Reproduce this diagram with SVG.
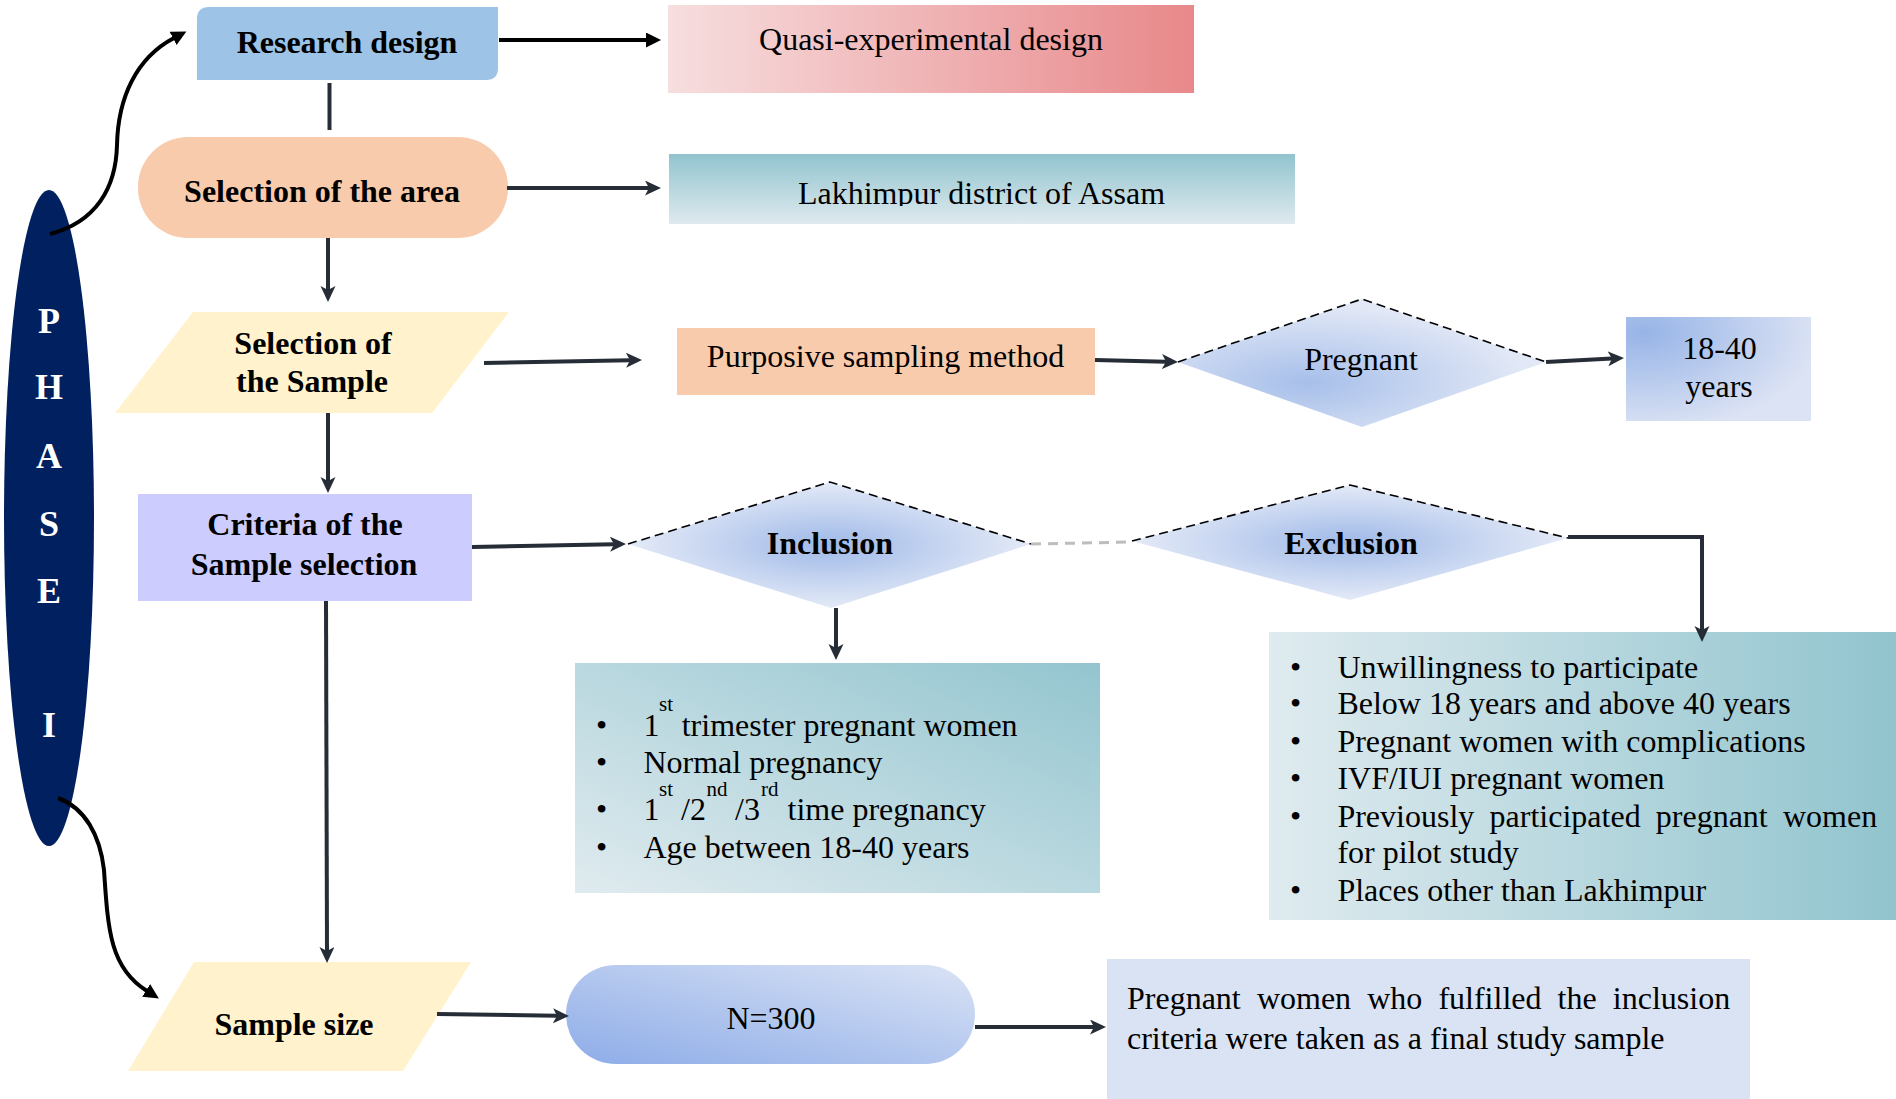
<svg xmlns="http://www.w3.org/2000/svg" width="1896" height="1099" viewBox="0 0 1896 1099">
  <style>
    .t { font-family: "Liberation Serif", "Times New Roman", serif; font-size: 32px; fill: #000; }
    .b { font-weight: bold; }
    .m { text-anchor: middle; }
    .sup { font-size: 21px; }
    .phase { font-family: "Liberation Serif", "Times New Roman", serif; font-size: 36px; font-weight: bold; fill: #fff; text-anchor: middle; }
    .conn { fill: none; stroke: #262d36; stroke-width: 4; }
    .blk { fill: none; stroke: #000; stroke-width: 4; }
    .dash { fill: none; stroke: #000; stroke-width: 1.6; stroke-dasharray: 9 5; }
  </style>
  <defs>
    <linearGradient id="gQuasi" x1="0" y1="0" x2="1" y2="0">
      <stop offset="0" stop-color="#F7DEDF"/>
      <stop offset="1" stop-color="#E8888A"/>
    </linearGradient>
    <linearGradient id="gLakh" x1="0" y1="0" x2="0" y2="1">
      <stop offset="0" stop-color="#92C4CE"/>
      <stop offset="1" stop-color="#DEEAEF"/>
    </linearGradient>
    <linearGradient id="gIncl" x1="1" y1="0" x2="0" y2="1">
      <stop offset="0" stop-color="#93C5CF"/>
      <stop offset="1" stop-color="#E0EBEF"/>
    </linearGradient>
    <linearGradient id="gExcl" x1="0" y1="0" x2="1" y2="0">
      <stop offset="0" stop-color="#DFEBEF"/>
      <stop offset="1" stop-color="#91C4CE"/>
    </linearGradient>
    <radialGradient id="gDia" cx="0.5" cy="0.5" r="0.5">
      <stop offset="0" stop-color="#9FB9E8"/>
      <stop offset="1" stop-color="#E4EAF7"/>
    </radialGradient>
    <radialGradient id="gPreg" cx="0.35" cy="0.65" r="0.6">
      <stop offset="0" stop-color="#A7BFEA"/>
      <stop offset="1" stop-color="#E2E8F6"/>
    </radialGradient>
    <radialGradient id="gAge" cx="0.1" cy="0.15" r="0.95">
      <stop offset="0" stop-color="#97B4E7"/>
      <stop offset="1" stop-color="#DCE3F4"/>
    </radialGradient>
    <linearGradient id="gN" x1="0" y1="1" x2="1" y2="0">
      <stop offset="0" stop-color="#8DACE8"/>
      <stop offset="1" stop-color="#DAE3F5"/>
    </linearGradient>
    <clipPath id="clipLakh">
      <rect x="669" y="154" width="626" height="52"/>
    </clipPath>
    <marker id="stealth" markerUnits="userSpaceOnUse" markerWidth="17" markerHeight="16" refX="4" refY="7.5" orient="auto">
      <path d="M0,0 L16,7.5 L0,15 L4,7.5 Z" fill="#262d36"/>
    </marker>
    <marker id="tri" markerUnits="userSpaceOnUse" markerWidth="16" markerHeight="16" refX="1" refY="7.5" orient="auto">
      <path d="M0,0 L15,7.5 L0,15 Z" fill="#000"/>
    </marker>
  </defs>

  <rect x="0" y="0" width="1896" height="1099" fill="#fff"/>

  <!-- PHASE I band -->
  <g id="phase">
    <ellipse cx="49" cy="518" rx="45" ry="328" fill="#00205F"/>
    <text class="phase" x="49" y="333">P</text>
    <text class="phase" x="49" y="399">H</text>
    <text class="phase" x="49" y="468">A</text>
    <text class="phase" x="49" y="536">S</text>
    <text class="phase" x="49" y="603">E</text>
    <text class="phase" x="49" y="737">I</text>
  </g>

  <g id="research-design">
    <path d="M209,7 H498 V68 Q498,80 486,80 H197 V19 Q197,7 209,7 Z" fill="#9DC3E6"/>
    <text class="t b m" x="347" y="53">Research design</text>
  </g>

  <g id="quasi">
    <rect x="668" y="5" width="526" height="88" fill="url(#gQuasi)"/>
    <text class="t m" x="931" y="50">Quasi-experimental design</text>
  </g>

  <g id="area">
    <rect x="138" y="137" width="370" height="101" rx="50" ry="50" fill="#F8CBAD"/>
    <text class="t b m" x="322" y="202">Selection of the area</text>
  </g>

  <g id="lakhimpur">
    <rect x="669" y="154" width="626" height="70" fill="url(#gLakh)"/>
    <text class="t m" x="981.5" y="203.5" clip-path="url(#clipLakh)">Lakhimpur district of Assam</text>
  </g>

  <g id="sample">
    <polygon points="193,312 509,312 432,413 115,413" fill="#FFF2CC"/>
    <text class="t b m" x="313" y="354">Selection of</text>
    <text class="t b m" x="312" y="392">the Sample</text>
  </g>

  <g id="purposive">
    <rect x="677" y="328" width="418" height="67" fill="#F8CBAD"/>
    <text class="t m" x="885.5" y="366.5">Purposive sampling method</text>
  </g>

  <g id="pregnant">
    <polygon points="1178,362 1362,299 1546,362 1362,427" fill="url(#gPreg)"/>
    <polyline class="dash" points="1178,362 1362,299 1546,362"/>
    <text class="t m" x="1361" y="369.5">Pregnant</text>
  </g>

  <g id="age">
    <rect x="1626" y="317" width="185" height="104" fill="url(#gAge)"/>
    <text class="t m" x="1719.5" y="359">18-40</text>
    <text class="t m" x="1719" y="397">years</text>
  </g>

  <g id="criteria">
    <rect x="138" y="494" width="334" height="107" fill="#CCCCFF"/>
    <text class="t b m" x="305" y="535">Criteria of the</text>
    <text class="t b m" x="304" y="575">Sample selection</text>
  </g>

  <g id="inclusion">
    <polygon points="628,544 830,482 1031,544 831,608" fill="url(#gDia)"/>
    <polyline class="dash" points="628,544 830,482 1031,544"/>
    <text class="t b m" x="830" y="553.5">Inclusion</text>
  </g>

  <g id="exclusion">
    <polygon points="1132,541 1350,485 1568,538 1350,600" fill="url(#gDia)"/>
    <polyline class="dash" points="1132,541 1350,485 1568,538"/>
    <text class="t b m" x="1351" y="553.5">Exclusion</text>
  </g>

  <g id="inclusion-list">
    <rect x="575" y="663" width="525" height="230" fill="url(#gIncl)"/>
    <text class="t" x="596" y="735.5">•</text>
    <text class="t" x="596" y="772.5">•</text>
    <text class="t" x="596" y="819.5">•</text>
    <text class="t" x="596" y="857.5">•</text>
    <text class="t" x="643.4" y="735.5">1</text>
    <text class="t sup" x="659" y="710.5">st</text>
    <text class="t" x="681.7" y="735.5">trimester pregnant women</text>
    <text class="t" x="643.4" y="772.5">Normal pregnancy</text>
    <text class="t" x="643.4" y="819.5">1</text>
    <text class="t sup" x="659" y="795.5">st</text>
    <text class="t" x="681" y="819.5">/2</text>
    <text class="t sup" x="706.6" y="795.5">nd</text>
    <text class="t" x="735" y="819.5">/3</text>
    <text class="t sup" x="761" y="795.5">rd</text>
    <text class="t" x="787.5" y="819.5">time pregnancy</text>
    <text class="t" x="643.4" y="857.5">Age between 18-40 years</text>
  </g>

  <g id="exclusion-list">
    <rect x="1269" y="632" width="627" height="288" fill="url(#gExcl)"/>
    <text class="t" x="1290" y="677.5">•</text>
    <text class="t" x="1290" y="713.5">•</text>
    <text class="t" x="1290" y="751.5">•</text>
    <text class="t" x="1290" y="788.5">•</text>
    <text class="t" x="1290" y="826.5">•</text>
    <text class="t" x="1290" y="900.5">•</text>
    <text class="t" x="1337.4" y="677.5">Unwillingness to participate</text>
    <text class="t" x="1337.4" y="713.5">Below 18 years and above 40 years</text>
    <text class="t" x="1337.4" y="751.5">Pregnant women with complications</text>
    <text class="t" x="1337.4" y="788.5">IVF/IUI pregnant women</text>
    <text class="t" y="826.5"><tspan x="1337.4">Previously</tspan><tspan x="1489.6">participated</tspan><tspan x="1655.8">pregnant</tspan><tspan x="1783">women</tspan></text>
    <text class="t" x="1337.4" y="862.5">for pilot study</text>
    <text class="t" x="1337.4" y="900.5">Places other than Lakhimpur</text>
  </g>

  <g id="sample-size">
    <polygon points="194,962 471,962 403,1071 128,1071" fill="#FFF2CC"/>
    <text class="t b m" x="294" y="1035">Sample size</text>
  </g>

  <g id="n300">
    <rect x="566" y="965" width="409" height="99" rx="50" ry="50" fill="url(#gN)"/>
    <text class="t m" x="771" y="1029">N=300</text>
  </g>

  <g id="final-sample">
    <rect x="1107" y="959" width="643" height="140" fill="#DAE3F3"/>
    <text class="t" y="1009"><tspan x="1127">Pregnant</tspan><tspan x="1256.9">women</tspan><tspan x="1367.2">who</tspan><tspan x="1438.4">fulfilled</tspan><tspan x="1557.6">the</tspan><tspan x="1612.8">inclusion</tspan></text>
    <text class="t" x="1127" y="1048.5">criteria were taken as a final study sample</text>
  </g>

  <!-- connectors -->
  <g id="connectors">
    <path class="blk" d="M499,40 H647" marker-end="url(#tri)"/>
    <path class="conn" d="M329.5,83 V130"/>
    <path class="conn" d="M507,188 H649" marker-end="url(#stealth)"/>
    <path class="conn" d="M328,238 V290" marker-end="url(#stealth)"/>
    <path class="conn" d="M484,363 L630,360.2" marker-end="url(#stealth)"/>
    <path class="conn" d="M1095,360 L1166,361.7" marker-end="url(#stealth)"/>
    <path class="conn" d="M1546,362 L1612,358.6" marker-end="url(#stealth)"/>
    <path class="conn" d="M328,413 V481" marker-end="url(#stealth)"/>
    <path class="conn" d="M472,547 L614,544.2" marker-end="url(#stealth)"/>
    <path d="M1031,544 L1132,542" fill="none" stroke="#BDBDBD" stroke-width="3" stroke-dasharray="10 7"/>
    <path class="conn" d="M836,608 V648" marker-end="url(#stealth)"/>
    <path class="conn" d="M1568,537 H1702 V630" marker-end="url(#stealth)"/>
    <path class="conn" d="M326,601 L327,951" marker-end="url(#stealth)"/>
    <path class="conn" d="M437,1014 L557,1015.8" marker-end="url(#stealth)"/>
    <path class="conn" d="M975,1027 H1094" marker-end="url(#stealth)"/>
    <path class="blk" d="M50,234 C96,222 116,188 117,145 C118,98 136,58 174,38" marker-end="url(#tri)"/>
    <path class="blk" d="M58,798 C85,808 100,835 104,870 C108,930 110,968 147,991" marker-end="url(#tri)"/>
  </g>
</svg>
